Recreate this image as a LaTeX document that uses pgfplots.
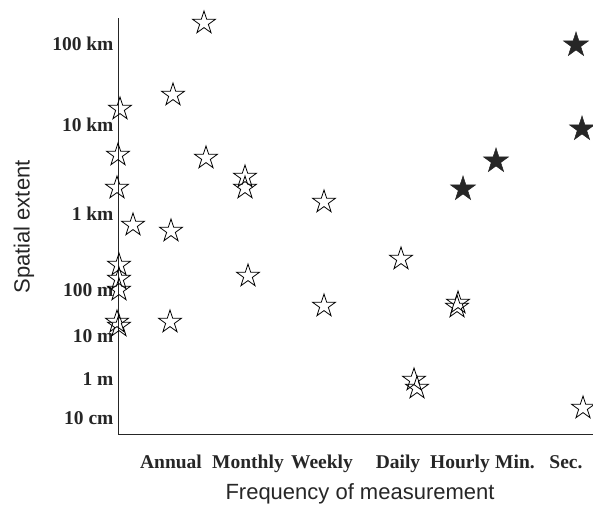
\documentclass[border=0pt]{standalone}
\usepackage{fontspec}
\setmainfont{Liberation Serif}
\setsansfont{Liberation Sans}
\usepackage{pgfplots}
\pgfplotsset{compat=1.18}
\pgfdeclareplotmark{ostar}{%
  \pgfpathmoveto{\pgfpointpolar{90}{\pgfplotmarksize}}%
  \pgfpathlineto{\pgfpointpolar{126}{0.382\pgfplotmarksize}}%
  \pgfpathlineto{\pgfpointpolar{162}{\pgfplotmarksize}}%
  \pgfpathlineto{\pgfpointpolar{198}{0.382\pgfplotmarksize}}%
  \pgfpathlineto{\pgfpointpolar{234}{\pgfplotmarksize}}%
  \pgfpathlineto{\pgfpointpolar{270}{0.382\pgfplotmarksize}}%
  \pgfpathlineto{\pgfpointpolar{306}{\pgfplotmarksize}}%
  \pgfpathlineto{\pgfpointpolar{342}{0.382\pgfplotmarksize}}%
  \pgfpathlineto{\pgfpointpolar{18}{\pgfplotmarksize}}%
  \pgfpathlineto{\pgfpointpolar{54}{0.382\pgfplotmarksize}}%
  \pgfpathclose
  \pgfusepathqstroke
}
\pgfdeclareplotmark{fstar}{%
  \pgfpathmoveto{\pgfpointpolar{90}{\pgfplotmarksize}}%
  \pgfpathlineto{\pgfpointpolar{126}{0.382\pgfplotmarksize}}%
  \pgfpathlineto{\pgfpointpolar{162}{\pgfplotmarksize}}%
  \pgfpathlineto{\pgfpointpolar{198}{0.382\pgfplotmarksize}}%
  \pgfpathlineto{\pgfpointpolar{234}{\pgfplotmarksize}}%
  \pgfpathlineto{\pgfpointpolar{270}{0.382\pgfplotmarksize}}%
  \pgfpathlineto{\pgfpointpolar{306}{\pgfplotmarksize}}%
  \pgfpathlineto{\pgfpointpolar{342}{0.382\pgfplotmarksize}}%
  \pgfpathlineto{\pgfpointpolar{18}{\pgfplotmarksize}}%
  \pgfpathlineto{\pgfpointpolar{54}{0.382\pgfplotmarksize}}%
  \pgfpathclose
  \pgfusepathqfillstroke
}
\begin{document}
\begin{tikzpicture}
\begin{axis}[
  scale only axis, width=475pt, height=416pt,
  xmin=118, xmax=593, ymin=72, ymax=488,
  axis lines=left, axis line style={-, line width=1pt, black!85},
  major tick length=0pt,
  clip=false,
  xtick={171,248,322,398,460,515,566},
  xticklabels={Annual,Monthly,Weekly,Daily,Hourly,Min.,Sec.},
  ytick={462,381,292,216,170,127,88},
  yticklabels={100 km,10 km,1 km,100 m,10 m,1 m,10 cm},
  tick label style={font=\bfseries\fontsize{19.5}{19.5}\selectfont, text=black!85},
  xticklabel style={anchor=base, yshift=-34pt},
  yticklabel style={xshift=-1pt},
  xlabel={Frequency of measurement},
  ylabel={Spatial extent},
  label style={font=\sffamily\fontsize{22}{22}\selectfont, text=black!85},
  xlabel style={at={(axis description cs:0.5095,-0.1442)}, anchor=center},
  ylabel style={at={(axis description cs:-0.1979,0.4976)}, anchor=center},
]
\addplot[only marks, mark=ostar, mark size=12pt, mark options={draw=black, line width=0.8pt}] coordinates {
(204,483) (173,411) (120,397) (118,351) (206,348) (245,329) (245,318)
(117,318) (133,281) (171,275) (119,241) (119,227) (119,216) (117,184)
(119,180) (170,184) (248,230) (324,304) (401,247) (324,200) (458,203)
(457,199) (414,126) (417,118) (583,98)
};
\addplot[only marks, mark=fstar, mark size=13pt, mark options={draw=black!85, fill=black!85, line width=0.5pt}] coordinates {
(463,317) (496,345) (576,461) (582,377)
};
\end{axis}
\pgfresetboundingbox
\useasboundingbox (-118pt,-72pt) rectangle (475pt,434pt);
\end{tikzpicture}
\end{document}
